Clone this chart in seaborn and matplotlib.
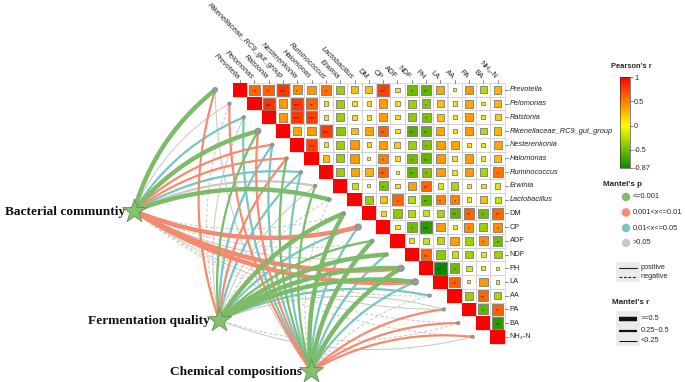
import numpy as np
import pandas as pd
import matplotlib
matplotlib.use("Agg")
import matplotlib.pyplot as plt
import seaborn as sns
from matplotlib.colors import LinearSegmentedColormap, Normalize
from matplotlib.patches import Rectangle

sns.set_theme(style="white")
plt.rcParams["font.family"] = ["Liberation Sans", "DejaVu Sans"]

# ---------------- data ----------------
variables = ["Prevotella", "Pelomonas", "Ralstonia", "Rikenellaceae_RC9_gut_group",
             "Nesterenkonia", "Halomonas", "Ruminococcus", "Erwinia", "Lactobacillus",
             "DM", "CP", "ADF", "NDF", "PH", "LA", "AA", "PA", "BA", "NH\u2083-N"]
n_italic = 9

# Pearson's r, upper triangle, each row starts at the diagonal
r_rows = [
    [1, 0.6, 0.62, 0.78, 0.45, 0.4, 0.55, -0.35, 0.25, 0.25, 0.75, 0.1, -0.5, -0.55, 0.35, 0.05, 0.4, -0.25, 0.3],
    [1, 0.8, 0.4, 0.78, 0.62, 0.12, -0.35, 0.12, 0.12, 0.38, 0.1, -0.35, -0.42, 0.25, 0.1, 0.35, 0.07, 0.3],
    [1, 0.4, 0.78, 0.75, 0.12, -0.35, 0.15, 0.12, 0.38, 0.1, -0.38, -0.45, 0.25, 0.1, 0.38, 0.1, 0.2],
    [1, 0.35, 0.38, 0.78, -0.4, 0.25, 0.35, 0.62, 0.1, -0.6, -0.55, 0.35, 0.1, 0.38, -0.25, 0.3],
    [1, 0.75, 0.12, -0.35, 0.4, 0.12, 0.38, 0.2, -0.35, -0.45, 0.38, 0.35, 0.1, 0.1, 0.35],
    [1, 0.25, -0.35, 0.4, 0.05, 0.5, 0.12, -0.5, -0.55, 0.4, 0.12, 0.38, 0.1, 0.25],
    [1, -0.35, 0.35, 0.3, 0.62, 0.05, -0.55, -0.45, 0.38, 0.12, 0.4, -0.3, 0.55],
    [1, -0.2, 0.05, -0.45, 0.12, 0.35, 0.6, -0.15, -0.3, 0.12, 0.12, -0.15],
    [1, -0.35, 0.25, 0.6, -0.25, -0.55, 0.5, 0.5, 0.1, 0.25, -0.2],
    [1, 0.15, -0.4, -0.25, -0.2, -0.3, -0.55, 0.6, -0.5, 0.6],
    [1, 0.1, -0.5, -0.75, 0.38, 0.1, 0.45, -0.35, 0.45],
    [1, 0.12, -0.2, -0.25, 0.38, -0.35, 0.45, -0.5],
    [1, 0.62, -0.4, -0.2, -0.35, 0.12, -0.35],
    [1, -0.87, -0.5, -0.15, -0.1, -0.05],
    [1, 0.62, 0.05, 0.4, 0.08],
    [1, -0.35, 0.6, -0.3],
    [1, -0.55, 0.62],
    [1, -0.75],
    [1],
]

# significance marks: (row, col, number of asterisks)
sig_cells = [(0, 1, 2), (0, 2, 2), (0, 3, 3), (0, 4, 1), (0, 6, 1), (0, 10, 3), (0, 12, 1), (0, 13, 2),
             (1, 2, 3), (1, 4, 3), (1, 5, 2), (1, 13, 1),
             (2, 4, 3), (2, 5, 3), (2, 13, 1),
             (3, 6, 3), (3, 10, 2), (3, 12, 2), (3, 13, 2),
             (4, 5, 3), (4, 13, 1),
             (5, 10, 1), (5, 12, 1), (5, 13, 2),
             (6, 10, 2), (6, 12, 2), (6, 13, 1), (6, 18, 1),
             (7, 10, 1), (7, 13, 2),
             (8, 11, 1), (8, 13, 2), (8, 14, 1), (8, 15, 1),
             (9, 15, 2), (9, 16, 2), (9, 17, 1), (9, 18, 2),
             (10, 12, 1), (10, 13, 3), (10, 16, 1), (10, 18, 1),
             (11, 17, 1), (11, 18, 1),
             (12, 13, 2),
             (13, 14, 3), (13, 15, 1),
             (14, 15, 2),
             (15, 17, 2),
             (16, 17, 1), (16, 18, 2),
             (17, 18, 2)]

groups = ["Bacterial communtiy", "Fermentation quality", "Chemical compositions"]
mantel_r_bac = [0.62, 0.12, 0.35, 0.58, 0.33, 0.30, 0.31, 0.27, 0.55, -0.10, 0.52, -0.08, 0.10, 0.56, 0.60, -0.12, 0.09, -0.07, -0.11]
mantel_p_bac = [0.001, 0.3, 0.03, 0.001, 0.005, 0.008, 0.02, 0.2, 0.001, 0.6, 0.004, 0.7, 0.4, 0.003, 0.002, 0.5, 0.35, 0.8, 0.6]
mantel_r_fer = [0.30, -0.08, 0.10, 0.35, 0.30, 0.28, 0.32, 0.12, -0.09, 0.57, 0.34, 0.40, 0.55, 0.60, 0.58, 0.30, 0.11, -0.07, 0.09]
mantel_p_fer = [0.006, 0.5, 0.4, 0.001, 0.03, 0.007, 0.04, 0.3, 0.6, 0.001, 0.02, 0.001, 0.001, 0.001, 0.001, 0.03, 0.2, 0.7, 0.4]
mantel_r_che = [0.10, 0.30, 0.28, 0.33, 0.30, 0.38, 0.32, 0.36, -0.09, 0.58, 0.30, 0.56, 0.31, 0.55, 0.30, -0.10, 0.28, 0.30, 0.32]
mantel_p_che = [0.4, 0.006, 0.03, 0.005, 0.04, 0.001, 0.02, 0.001, 0.5, 0.001, 0.03, 0.001, 0.02, 0.001, 0.04, 0.6, 0.008, 0.007, 0.004]
node_dot_size = [5, 3.5, 3.5, 6, 3.5, 3.5, 3.5, 3.5, 3.5, 3.5, 6.5, 3.5, 3.5, 6.5, 6.5, 3.5, 3.5, 3.5, 3.5]

p_labels = ["<=0.001", "0.001<x<=0.01", "0.01<x<=0.05", ">0.05"]
p_colors = ["#7dbb68", "#f68a70", "#78c6c0", "#c9c9c4"]
r_labels = [">=0.5", "0.25~0.5", "<0.25"]
r_widths = [3.2, 1.6, 0.75]
cbar_ticks = [1, 0.5, 0, -0.5, -0.87]

# ---------------- layout ----------------
X0, Y0, CW, CH = 233.0, 83.0, 14.3, 13.72
n = len(variables)
PX = 1 / 0.72  # pixels per point (dpi 100)

fig = plt.figure(figsize=(6.85, 3.82), dpi=100)
ax = fig.add_axes([0, 0, 1, 1])
ax.set_xlim(0, 685)
ax.set_ylim(382, 0)
ax.axis("off")

cmap = LinearSegmentedColormap.from_list(
    "gyr", [(0, "#0a8a00"), (0.87 / 1.87, "#ffff00"), (1, "#ff0000")])
norm = Normalize(-0.87, 1)

recs = []
for i, row in enumerate(r_rows):
    for k, val in enumerate(row):
        j = i + k
        recs.append(dict(row=i, col=j, r=val))
cells = pd.DataFrame(recs)
cells["x"] = X0 + CW * (cells["col"] + 0.5)
cells["y"] = Y0 + CH * (cells["row"] + 0.5)
cells["absr"] = cells["r"].abs()

# grid
for _, c in cells.iterrows():
    ax.add_patch(Rectangle((X0 + CW * c["col"], Y0 + CH * c["row"]), CW, CH,
                           fill=False, ec="#cfcfcf", lw=0.5, zorder=2))
# diagonal
diag = cells[cells["row"] == cells["col"]]
for _, c in diag.iterrows():
    ax.add_patch(Rectangle((X0 + CW * c["col"], Y0 + CH * c["row"]), CW, CH,
                           fc=cmap(norm(c["r"])), ec="none", lw=0, zorder=3))
off = cells[cells["row"] != cells["col"]]
full_area = (13.5 / PX) ** 2
sns.scatterplot(data=off, x="x", y="y", hue="r", palette=cmap, hue_norm=norm,
                size="absr", sizes=(0, full_area), size_norm=(0, 1), marker="s",
                edgecolor="#7a7a7a", linewidth=0.6, legend=False, ax=ax, zorder=4)
ax.set_xlabel("")
ax.set_ylabel("")
for (i, j, k) in sig_cells:
    ax.text(X0 + CW * (j + 0.5), Y0 + CH * (i + 0.5) + 1.6, "*" * k, ha="center", va="center",
            fontsize=3.6, color="#222222", zorder=5)

# axis labels
for i, name in enumerate(variables):
    style = "italic" if i < n_italic else "normal"
    cx = X0 + CW * (i + 0.5)
    ax.plot([cx, cx], [Y0, Y0 - 3], color="#555555", lw=0.5)
    ax.text(cx - 2, Y0 - 5, name, rotation=-45, rotation_mode="anchor", ha="right", va="center",
            fontsize=5.4, fontstyle=style, color="#222222")
    cy = Y0 + CH * (i + 0.5)
    xr = X0 + CW * n
    ax.plot([xr, xr + 3], [cy, cy], color="#555555", lw=0.5)
    ax.text(xr + 5, cy, name, ha="left", va="center", fontsize=5.3, fontstyle=style, color="#222222")

# ---------------- Mantel links ----------------
star_pos = [(134, 211), (219, 320), (311, 371)]
node_x = [X0 + CW * (i + 0.5) - 25.0 for i in range(n)]
node_y = [Y0 + CH * (i + 0.5) for i in range(n)]

links = []
for g, (rr, pp) in enumerate([(mantel_r_bac, mantel_p_bac), (mantel_r_fer, mantel_p_fer),
                               (mantel_r_che, mantel_p_che)]):
    for i in range(n):
        links.append(dict(group=g, node=i, r=rr[i], p=pp[i]))
links = pd.DataFrame(links)
links["pcat"] = pd.cut(links["p"], [-np.inf, 0.001, 0.01, 0.05, np.inf], labels=False)
links["rcat"] = np.where(links["r"].abs() >= 0.5, 0, np.where(links["r"].abs() >= 0.25, 1, 2))
links = links.sort_values("pcat", ascending=False)

t = np.linspace(0, 1, 60)
for _, L in links.iterrows():
    sx, sy = star_pos[int(L["group"])]
    ex, ey = node_x[int(L["node"])], node_y[int(L["node"])]
    dx, dy = ex - sx, ey - sy
    ln = np.hypot(dx, dy)
    side = 1.0 if ey < sy else -1.0
    nx, ny = side * dy / ln, -side * dx / ln
    k = 0.16
    cxp, cyp = (sx + ex) / 2 + k * ln * nx, (sy + ey) / 2 + k * ln * ny
    bx = (1 - t) ** 2 * sx + 2 * (1 - t) * t * cxp + t ** 2 * ex
    by = (1 - t) ** 2 * sy + 2 * (1 - t) * t * cyp + t ** 2 * ey
    ls = "-" if L["r"] >= 0 else (0, (3, 2))
    ax.plot(bx, by, color=p_colors[int(L["pcat"])], lw=r_widths[int(L["rcat"])],
            ls=ls, solid_capstyle="butt", zorder=1)

nodes = pd.DataFrame(dict(x=node_x, y=node_y, s=[(d / PX) ** 2 for d in node_dot_size]))
ax.scatter(nodes["x"], nodes["y"], s=nodes["s"], color="#9a9a9a", edgecolor="#7a7a7a",
           linewidth=0.4, zorder=6)
stars = pd.DataFrame(dict(x=[p[0] for p in star_pos], y=[p[1] for p in star_pos], g=groups))
sns.scatterplot(data=stars, x="x", y="y", marker="*", s=330, color="#84c06e",
                edgecolor="#5e9150", linewidth=0.6, legend=False, ax=ax, zorder=7)
ax.set_xlabel("")
ax.set_ylabel("")
for (sx, sy), g in zip(star_pos, groups):
    ax.text(sx - 9, sy + 1, g, ha="right", va="center", fontsize=9.6, fontweight="bold",
            family="Liberation Serif", color="#111111")

# ---------------- legends ----------------
cax = fig.add_axes([620 / 685, 1 - 168 / 382, 10 / 685, 91 / 382])
cb = fig.colorbar(plt.cm.ScalarMappable(norm=norm, cmap=cmap), cax=cax, ticks=cbar_ticks)
cb.ax.set_yticklabels([str(v) for v in cbar_ticks])
cb.ax.tick_params(labelsize=5.3, length=2, width=0.4, pad=1)
cb.outline.set_linewidth(0.4)
ax.text(631, 66, "Pearson's r", ha="center", va="center", fontsize=5.4, fontweight="bold")

ax.text(603, 185, "Mantel's p", ha="left", va="center", fontsize=5.8, fontweight="bold")
leg_y = [197, 212.5, 228, 243]
ax.scatter([626] * 4, leg_y, s=(8.5 / PX) ** 2, color=p_colors, edgecolor="none", zorder=5)
for yy, lab in zip(leg_y, p_labels):
    ax.text(633, yy, lab, ha="left", va="center", fontsize=5.3)

ax.add_patch(Rectangle((616, 262), 24, 20, fc="#ebebeb", ec="none"))
ax.plot([619, 637], [267.5, 267.5], color="#222222", lw=0.8)
ax.plot([619, 637], [277, 277], color="#222222", lw=0.8, ls=(0, (2.5, 1.5)))
ax.text(641, 267.5, "positive", ha="left", va="center", fontsize=5.3)
ax.text(641, 277, "negative", ha="left", va="center", fontsize=5.3)

ax.text(612, 303, "Mantel's r", ha="left", va="center", fontsize=5.8, fontweight="bold")
ax.add_patch(Rectangle((616, 311), 24, 35, fc="#ebebeb", ec="none"))
for yy, lab, w in zip([318.5, 330.5, 341], r_labels, r_widths):
    ax.plot([619, 637], [yy, yy], color="#111111", lw=w, solid_capstyle="butt")
    ax.text(641, yy, lab, ha="left", va="center", fontsize=5.3)

fig.savefig("out.png", dpi=100)
